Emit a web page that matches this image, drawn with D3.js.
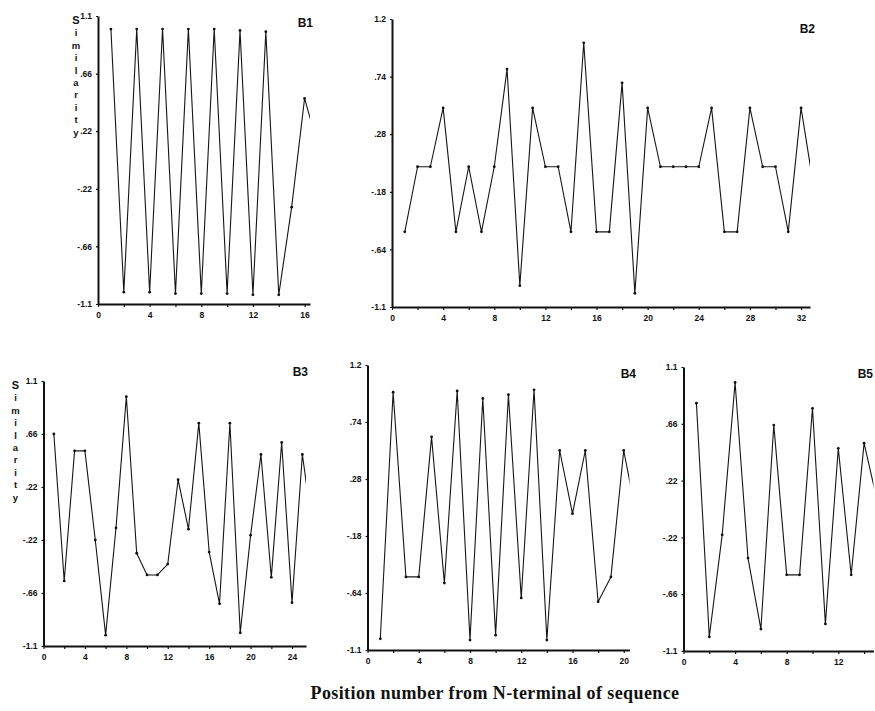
<!DOCTYPE html>
<html>
<head>
<meta charset="utf-8">
<script src="https://cdn.jsdelivr.net/npm/d3@7"></script>
<style>
  body { margin: 0; background: #fff; }
  svg { display: block; }
  .tick text { font-family: "Liberation Sans", Arial, sans-serif; font-size: 8.5px; font-weight: bold; fill: #111; }
  .domain { stroke: #111; stroke-width: 2; }
  .tick line { stroke: #111; stroke-width: 1.2; }
</style>
</head>
<body>
<div id="chart"></div>
<script>
// similarity values, one array per sequence (position 1..n)
const b1Values = [1.0, -1.01, 1.0, -1.01, 1.0, -1.02, 1.0, -1.02, 1.0, -1.02, 0.99, -1.03, 0.98, -1.03, -0.36, 0.47, 0.12];
const b2Values = [-0.5, 0.02, 0.02, 0.49, -0.5, 0.02, -0.5, 0.02, 0.8, -0.93, 0.49, 0.02, 0.02, -0.5, 1.01, -0.5,
                  -0.5, 0.69, -0.99, 0.49, 0.02, 0.02, 0.02, 0.02, 0.49, -0.5, -0.5, 0.49, 0.02, 0.02, -0.5, 0.49, -0.15];
const b3Values = [0.66, -0.56, 0.52, 0.52, -0.22, -1.01, -0.12, 0.97, -0.33, -0.51, -0.51, -0.42, 0.28, -0.13,
                  0.75, -0.32, -0.75, 0.75, -0.99, -0.18, 0.49, -0.53, 0.59, -0.74, 0.49, -0.14];
const b4Values = [-1.01, 0.98, -0.51, -0.51, 0.62, -0.56, 0.99, -1.02, 0.93, -0.98, 0.96, -0.68, 1.0, -1.02,
                  0.51, 0.0, 0.51, -0.71, -0.51, 0.51, -0.02];
const b5Values = [0.82, -0.99, -0.2, 0.98, -0.38, -0.93, 0.65, -0.51, -0.51, 0.78, -0.89, 0.47, -0.51, 0.51, 0.07];

// y tick values and their printed labels
const yTicksA = [1.1, 0.66, 0.22, -0.22, -0.66, -1.1];
const yLabelsA = ["1.1", ".66", ".22", "-.22", "-.66", "-1.1"];
const yTicksB = [1.2, 0.74, 0.28, -0.18, -0.64, -1.1];
const yLabelsB = ["1.2", ".74", ".28", "-.18", "-.64", "-1.1"];

// x labels (every 4 positions), minor ticks every 2
const xLabelStep = 4;
const xTickStep = 2;

const panelNames = ["B1", "B2", "B3", "B4", "B5"];
const yAxisLetters = "Similarity".split("");
const xTitle = "Position number from N-terminal of sequence";

const width = 875, height = 711;

const svg = d3.select("#chart").append("svg")
    .attr("width", width)
    .attr("height", height);

// panel frames in pixels: left/right of the x range, top/bottom of the y range,
// nameX/nameY = where the panel name sits
const panels = [
    {name: panelNames[0], values: b1Values, yTicks: yTicksA, yLabels: yLabelsA, yMax: 1.1,
     left: 98, right: 310, xEnd: 16.42, top: 16, bottom: 304, xMaxLabel: 16, yTitle: true,
     nameX: 313, nameY: 27},
    {name: panelNames[1], values: b2Values, yTicks: yTicksB, yLabels: yLabelsB, yMax: 1.2,
     left: 392, right: 810, xEnd: 32.7, top: 19, bottom: 307, xMaxLabel: 32,
     nameX: 815, nameY: 33},
    {name: panelNames[2], values: b3Values, yTicks: yTicksA, yLabels: yLabelsA, yMax: 1.1,
     left: 43.5, right: 306, xEnd: 25.35, top: 381, bottom: 646, xMaxLabel: 24, yTitle: true,
     nameX: 308, nameY: 376},
    {name: panelNames[3], values: b4Values, yTicks: yTicksB, yLabels: yLabelsB, yMax: 1.2,
     left: 367.5, right: 629.5, xEnd: 20.45, top: 365, bottom: 650, xMaxLabel: 20,
     nameX: 636, nameY: 378},
    {name: panelNames[4], values: b5Values, yTicks: yTicksA, yLabels: yLabelsA, yMax: 1.1,
     left: 683.5, right: 873.5, xEnd: 14.73, top: 367, bottom: 651, xMaxLabel: 12,
     nameX: 873, nameY: 378}
];

panels.forEach((p, idx) => drawPanel(p, idx));

function drawPanel(p, idx) {

    const xScale = d3.scaleLinear().domain([0, p.xEnd]).range([p.left, p.right]);
    const yScale = d3.scaleLinear().domain([-1.1, p.yMax]).range([p.bottom, p.top]);

    const g = svg.append("g").attr("class", "panel");

    // clip the series at the end of the x axis
    const clipId = "clip" + idx;
    svg.append("clipPath").attr("id", clipId)
        .append("rect")
        .attr("x", p.left).attr("y", p.top - 10)
        .attr("width", p.right - p.left).attr("height", p.bottom - p.top + 20);

    const xTickVals = d3.range(0, p.xEnd, xTickStep);

    g.append("g")
        .attr("class", "x-axis")
        .attr("transform", "translate(0," + p.bottom + ")")
        .call(d3.axisBottom(xScale)
            .tickValues(xTickVals)
            .tickSize(3)
            .tickSizeOuter(0)
            .tickFormat(d => (d % xLabelStep === 0 && d <= p.xMaxLabel) ? d : ""))
        .selectAll("text").attr("dy", "0.9em");

    g.append("g")
        .attr("class", "y-axis")
        .attr("transform", "translate(" + p.left + ",0)")
        .call(d3.axisLeft(yScale)
            .tickValues(p.yTicks)
            .tickSize(2)
            .tickSizeOuter(0)
            .tickFormat((d, i) => p.yLabels[i]))
        .selectAll("text").attr("dx", "-1px");

    // series line with small dot markers
    const line = d3.line()
        .x((d, i) => xScale(i + 1))
        .y(d => yScale(d));

    const series = g.append("g").attr("clip-path", "url(#" + clipId + ")");

    series.append("path")
        .datum(p.values)
        .attr("fill", "none")
        .attr("stroke", "#151515")
        .attr("stroke-width", 1.1)
        .attr("stroke-linejoin", "round")
        .attr("d", line);

    series.selectAll(".dot")
        .data(p.values)
        .enter()
        .append("circle")
        .attr("class", "dot")
        .attr("cx", (d, i) => xScale(i + 1))
        .attr("cy", d => yScale(d))
        .attr("r", 1.4)
        .attr("fill", "#111");

    // panel name, top right
    g.append("text")
        .attr("x", p.nameX)
        .attr("y", p.nameY)
        .attr("text-anchor", "end")
        .style("font-family", "'Liberation Sans', Arial, sans-serif")
        .style("font-weight", "900")
        .style("font-size", "12px")
        .attr("fill", "#111")
        .text(p.name);

    // stacked "Similarity" label
    if (p.yTitle) {
        g.append("g")
            .selectAll("text")
            .data(yAxisLetters)
            .enter()
            .append("text")
            .attr("x", p.left - (idx === 0 ? 22 : 28))
            .attr("y", (d, i) => p.top + 8 + i * 12.4)
            .attr("text-anchor", "middle")
            .style("font-family", "'Liberation Sans', Arial, sans-serif")
            .style("font-weight", "bold")
            .style("font-size", (d, i) => i === 0 ? "11px" : "9.5px")
            .attr("fill", "#111")
            .text(d => d);
    }
}

// shared x title
svg.append("text")
    .attr("x", 495)
    .attr("y", 699)
    .attr("text-anchor", "middle")
    .style("font-family", "'Liberation Serif', 'Times New Roman', serif")
    .style("font-weight", "bold")
    .style("font-size", "18px")
    .style("letter-spacing", "0.4px")
    .attr("fill", "#111")
    .text(xTitle);
</script>
</body>
</html>
